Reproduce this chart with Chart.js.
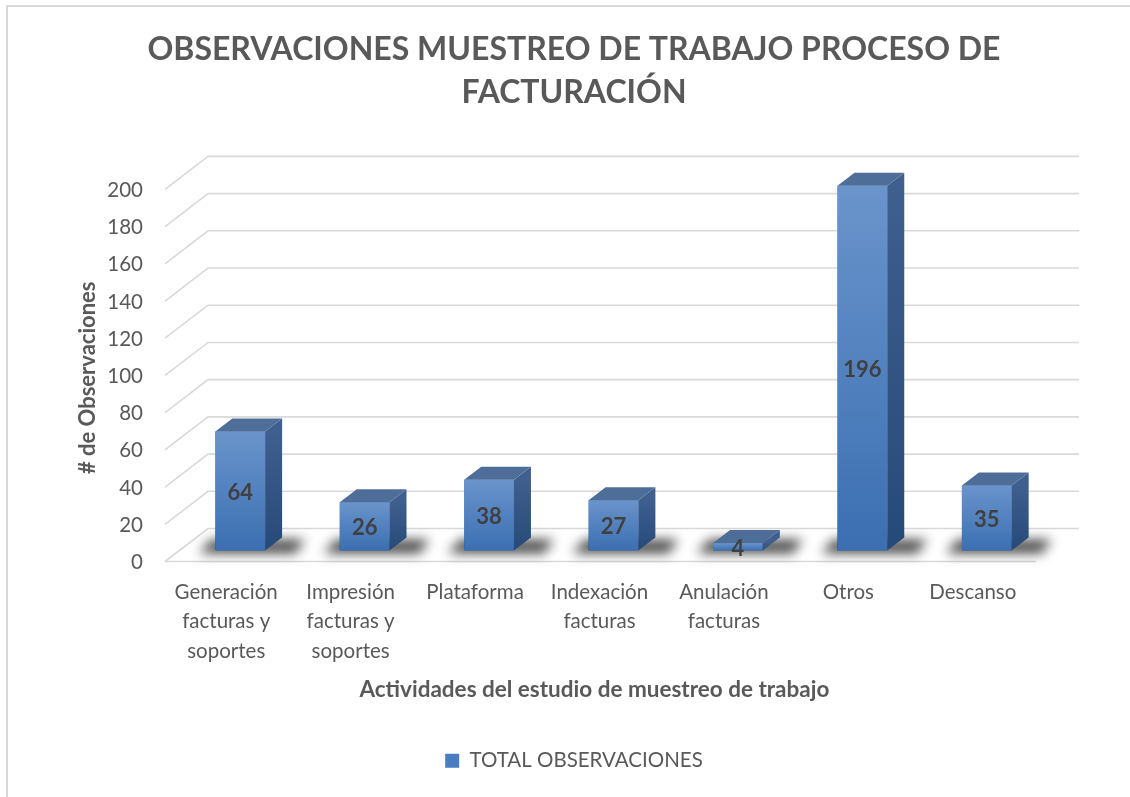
<!DOCTYPE html>
<html>
<head>
<meta charset="utf-8">
<script src="https://cdn.jsdelivr.net/npm/chart.js@4/dist/chart.umd.min.js"></script>
<style>
    body { margin: 0; background: #fff; }
    #wrap { position: relative; width: 1130px; height: 797px; }
    #frame { position: absolute; left: 6px; top: 5px; right: 0; bottom: 0;
             border-left: 2px solid #d9d9d9; border-top: 2px solid #d9d9d9; pointer-events: none; }
</style>
</head>
<body>
<div id="wrap">
    <canvas id="myChart" width="1130" height="797"></canvas>
    <div id="frame"></div>
</div>
<script>
// chart data
const categories = [
    ["Generación", "facturas y", "soportes"],
    ["Impresión", "facturas y", "soportes"],
    "Plataforma",
    ["Indexación", "facturas"],
    ["Anulación", "facturas"],
    "Otros",
    "Descanso",
];
const observaciones = [64, 26, 38, 27, 4, 196, 35];
const yTicks = [0, 20, 40, 60, 80, 100, 120, 140, 160, 180, 200];

const textColor = "#595959";
const fontName = "Lato, 'Open Sans', sans-serif";
const nbsp = "\u00a0";

// depth offsets used to fake the 3D look
const back = { dx: 30, dy: -22 };
const front = { dx: -13, dy: 11 };
const barDepth = { dx: 17, dy: -13 };

// gridlines drawn as a back wall with a slanted floor edge, bars drawn as boxes
const grid3d = {
    id: "grid3d",
    beforeDatasetsDraw(chart) {
        const ctx = chart.ctx;
        const y = chart.scales.y;
        const area = chart.chartArea;
        ctx.save();
        ctx.strokeStyle = "#d9d9d9";
        ctx.lineWidth = 1.6;
        yTicks.forEach((v) => {
            const py = y.getPixelForValue(v);
            ctx.beginPath();
            ctx.moveTo(area.left + front.dx, py + front.dy);
            ctx.lineTo(area.left + back.dx, py + back.dy);
            ctx.lineTo(area.right + back.dx, py + back.dy);
            ctx.stroke();
        });
        // front floor edge
        const p0 = y.getPixelForValue(0);
        ctx.beginPath();
        ctx.moveTo(area.left + front.dx, p0 + front.dy);
        ctx.lineTo(area.right + front.dx, p0 + front.dy);
        ctx.stroke();
        ctx.restore();
    },
    afterDatasetsDraw(chart) {
        const ctx = chart.ctx;
        const meta = chart.getDatasetMeta(0);
        ctx.save();
        meta.data.forEach((bar, i) => {
            const w = bar.width;
            const l = bar.x - w / 2;
            const r = bar.x + w / 2;
            const top = bar.y;
            const base = bar.base;
            // floor shadow
            ctx.save();
            ctx.filter = "blur(6px)";
            ctx.fillStyle = "rgba(0,0,0,0.7)";
            ctx.beginPath();
            ctx.moveTo(l - 16, base + 3);
            ctx.lineTo(r + 30, base + 3);
            ctx.lineTo(r + 40, base - 11);
            ctx.lineTo(l - 4, base - 11);
            ctx.closePath();
            ctx.fill();
            ctx.restore();
            // front face
            const g = ctx.createLinearGradient(0, top, 0, base);
            g.addColorStop(0, "#6a94cb");
            g.addColorStop(1, "#3b6fb2");
            ctx.fillStyle = g;
            ctx.fillRect(l, top, w, base - top);
            // side face
            const gs = ctx.createLinearGradient(0, top, 0, base);
            gs.addColorStop(0, "#3f5f8e");
            gs.addColorStop(1, "#264a78");
            ctx.fillStyle = gs;
            ctx.beginPath();
            ctx.moveTo(r, top);
            ctx.lineTo(r + barDepth.dx, top + barDepth.dy);
            ctx.lineTo(r + barDepth.dx, base + barDepth.dy);
            ctx.lineTo(r, base);
            ctx.closePath();
            ctx.fill();
            // top face
            ctx.fillStyle = "#4e6d99";
            ctx.beginPath();
            ctx.moveTo(l, top);
            ctx.lineTo(l + barDepth.dx, top + barDepth.dy);
            ctx.lineTo(r + barDepth.dx, top + barDepth.dy);
            ctx.lineTo(r, top);
            ctx.closePath();
            ctx.fill();
            // value label
            ctx.fillStyle = "#404040";
            ctx.font = "bold 22px " + fontName;
            ctx.textAlign = "center";
            ctx.textBaseline = "middle";
            ctx.fillText(observaciones[i], bar.x, (top + base) / 2 + 2);
        });
        ctx.restore();
    },
};

const ctx = document.getElementById("myChart").getContext("2d");
new Chart(ctx, {
    type: "bar",
    data: {
        labels: categories,
        datasets: [
            {
                label: "TOTAL OBSERVACIONES",
                data: observaciones,
                backgroundColor: "#4a7dc0",
                borderWidth: 0,
                barPercentage: 0.4,
                categoryPercentage: 1,
            },
        ],
    },
    options: {
        responsive: false,
        animation: false,
        layout: { padding: { left: 99, right: 81, top: 0, bottom: 16 } },
        plugins: {
            title: {
                display: true,
                text: ["OBSERVACIONES MUESTREO DE TRABAJO PROCESO DE", "FACTURACIÓN"],
                color: textColor,
                font: { family: fontName, size: 32, weight: "bold", lineHeight: 1.35 },
                padding: { top: 28, bottom: 64 },
            },
            legend: {
                position: "bottom",
                labels: {
                    color: textColor,
                    font: { family: fontName, size: 20.5 },
                    boxWidth: 14,
                    boxHeight: 14,
                    padding: 10,
                },
            },
            tooltip: { enabled: false },
        },
        scales: {
            x: {
                grid: { display: false, drawTicks: false },
                border: { display: false },
                ticks: {
                    color: textColor,
                    font: { family: fontName, size: 20.5, lineHeight: 1.44 },
                    padding: 27,
                    labelOffset: -14,
                    maxRotation: 0,
                    autoSkip: false,
                },
                title: {
                    display: true,
                    text: "Actividades del estudio de muestreo de trabajo" + nbsp.repeat(7),
                    color: textColor,
                    font: { family: fontName, size: 22.5, weight: "bold" },
                    padding: { top: 0, bottom: 37 },
                },
                afterFit(scale) {
                    scale.height = 190;
                },
            },
            y: {
                min: 0,
                max: 200,
                grid: { display: false, drawTicks: false },
                border: { display: false },
                ticks: {
                    stepSize: 20,
                    color: textColor,
                    font: { family: fontName, size: 20.5 },
                    padding: 35,
                    labelOffset: 12,
                },
                title: {
                    display: true,
                    text: "# de Observaciones" + nbsp.repeat(5),
                    color: textColor,
                    font: { family: fontName, size: 22, weight: "bold" },
                    padding: { top: -24, bottom: 0 },
                },
                afterFit(scale) {
                    scale.width = 79;
                },
            },
        },
    },
    plugins: [grid3d],
});
</script>
</body>
</html>
